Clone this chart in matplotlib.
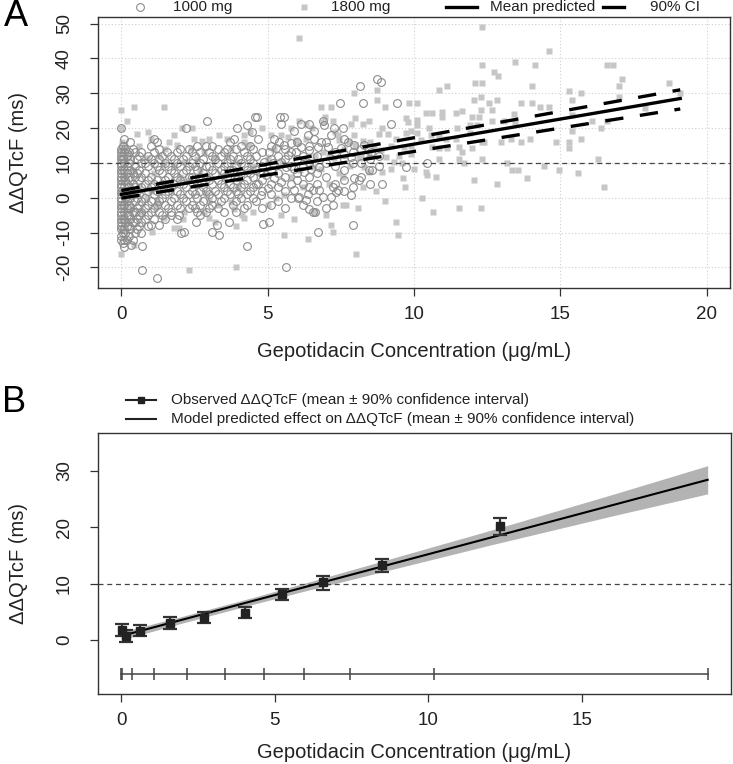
import matplotlib
matplotlib.use("Agg")
import matplotlib.pyplot as plt
from matplotlib.lines import Line2D
import numpy as np

plt.rcParams['font.family'] = ['Liberation Sans', 'DejaVu Sans']
plt.rcParams['axes.unicode_minus'] = False

pts_1000 = [
    (0, 20), (0, 14), (0, 13), (0, 12), (0, 11), (0, 10), (0, 9), (0, 8), (0, 7), (0, 6), (0, 5),
    (0, 4), (0, 3), (0, 2), (0, 1), (0, 0), (0, -1), (0, -2), (0, -3), (0, -4), (0, -5), (0, -6),
    (0, -7), (0, -8), (0, -9), (0, -11), (0, -12),
    (0.05, 15), (0.05, 11), (0.05, -10), (0.05, -13),
    (0.08, 17), (0.08, 13), (0.08, 10), (0.08, 8), (0.08, 6), (0.08, 3), (0.08, 1), (0.08, -2),
    (0.08, -4), (0.08, -6), (0.08, -9), (0.08, -12), (0.08, -14),
    (0.12, 14), (0.12, 5), (0.12, 0), (0.12, -7), (0.12, -10),
    (0.18, 12), (0.18, 9), (0.18, 7), (0.18, 4), (0.18, 2), (0.18, -1), (0.18, -3), (0.18, -5),
    (0.18, -8), (0.18, -12),
    (0.25, 13), (0.25, 10), (0.25, 6), (0.25, 3), (0.25, -2), (0.25, -5), (0.25, -8), (0.25, -11),
    (0.3, 16), (0.3, 11), (0.3, 8), (0.3, 5), (0.3, 2), (0.3, 0), (0.3, -3), (0.3, -6), (0.3, -9),
    (0.32, -13.6),
    (0.38, 14), (0.38, 7), (0.38, 4), (0.38, 1), (0.38, -4), (0.38, -7), (0.38, -12),
    (0.45, 13), (0.45, 9), (0.45, 6), (0.45, 3), (0.45, -1), (0.45, -4), (0.45, -7), (0.45, -10),
    (0.52, 11), (0.52, 7), (0.52, 2), (0.52, 0), (0.52, -3), (0.52, -6), (0.52, -9),
    (0.6, 12), (0.6, 8), (0.6, 5), (0.6, 1), (0.6, -2), (0.6, -5), (0.6, -8),
    (0.68, 13), (0.68, 10), (0.68, 6), (0.68, 3), (0.68, -1), (0.68, -4), (0.68, -7), (0.68, -10),
    (0.72, -13.8), (0.72, -20.8),
    (0.8, 10), (0.8, 7), (0.8, 4), (0.8, 0), (0.8, -3), (0.8, -6),
    (0.9, 12), (0.9, 9), (0.9, 5), (0.9, 2), (0.9, -2), (0.9, -5), (0.9, -8),
    (1.0, 15), (1.0, 11), (1.0, 6), (1.0, 3), (1.0, -1), (1.0, -4), (1.0, -7.8),
    (1.1, 17), (1.1, 13), (1.1, 10), (1.1, 4), (1.1, 1), (1.1, -3), (1.1, -6),
    (1.23, 16), (1.23, -23),
    (1.2, 9), (1.2, 5), (1.2, 2), (1.2, -2), (1.3, -7.8),
    (1.3, 14), (1.3, 11), (1.3, 8), (1.3, 3), (1.3, -1), (1.3, -4),
    (1.4, 12), (1.4, 7), (1.4, 4), (1.4, 0), (1.4, -5),
    (1.5, 10), (1.5, 5), (1.5, 1), (1.5, -2), (1.5, -6),
    (1.55, 13), (1.6, 9), (1.6, 6), (1.6, 2), (1.6, -3), (1.68, -5),
    (1.7, 12), (1.7, 8), (1.7, 3), (1.7, -1), (1.7, -4),
    (1.8, 11), (1.8, 7), (1.8, 4), (1.8, 0), (1.97, -5),
    (1.9, 13), (1.9, 10), (1.9, 6), (1.9, 2), (1.9, -2), (1.9, -6),
    (2.0, 14), (2.0, 9), (2.0, 5), (2.0, 1), (2.0, -3), (2.03, -10.2), (2.14, -9.8),
    (2.1, 11), (2.1, 7), (2.1, 4), (2.1, 0),
    (2.2, 20), (2.2, 12), (2.2, 8), (2.2, 3), (2.2, -1),
    (2.3, 14), (2.3, 9), (2.3, 6), (2.3, 1), (2.3, -3),
    (2.4, 13), (2.4, 10), (2.4, 6), (2.4, 2), (2.4, -2),
    (2.5, 12), (2.5, 9), (2.5, 5), (2.5, 1), (2.5, -3),
    (2.55, -6.9), (2.6, 15), (2.6, 8), (2.6, 4), (2.6, 0), (2.6, -4),
    (2.7, 13), (2.7, 10), (2.7, 6), (2.7, 2), (2.7, -2), (2.7, -5),
    (2.8, 11), (2.8, 7), (2.8, 3), (2.8, -1),
    (2.9, 15), (2.9, 9), (2.9, 6), (2.9, 2), (2.9, -4),
    (2.94, 22), (3.0, 13), (3.0, 9), (3.0, 5), (3.0, 1), (3.0, -3),
    (3.1, 15), (3.1, -9.8), (3.1, 12), (3.1, 8), (3.1, 4), (3.1, 0), (3.1, -2),
    (3.2, 11), (3.2, 7), (3.2, 2), (3.28, -7.8), (3.33, -10.7),
    (3.3, 14), (3.3, 10), (3.3, 5), (3.3, 1), (3.3, -3),
    (3.4, 12), (3.4, 8), (3.4, 4), (3.4, -1),
    (3.5, 13), (3.5, 9), (3.5, 7), (3.5, 3), (3.5, 0), (3.5, -4),
    (3.6, 14), (3.6, 10), (3.6, 6), (3.6, 2), (3.67, -6.9),
    (3.7, 16), (3.7, 11), (3.7, 8), (3.7, 4), (3.7, 1),
    (3.85, 17), (3.8, 12), (3.8, 8), (3.8, 3), (3.8, -2),
    (3.9, 14), (3.9, 9), (3.9, 5), (3.9, 2), (3.9, -1), (3.9, -4),
    (3.96, 20), (4.0, 11), (4.0, 6), (4.0, 1),
    (4.1, 15), (4.1, 10), (4.1, 7), (4.1, 3), (4.1, 0),
    (4.2, 13), (4.2, 9), (4.2, 4), (4.2, -3),
    (4.3, 21), (4.3, -13.8), (4.3, 12), (4.3, 8), (4.3, 5), (4.3, 1), (4.3, -2),
    (4.4, 15), (4.4, 11), (4.4, 7), (4.4, 2),
    (4.5, 14), (4.5, 10), (4.5, 6), (4.5, 3), (4.5, 0),
    (4.47, 19), (4.58, 23.3), (4.6, 12), (4.6, 8), (4.6, 4), (4.6, -1),
    (4.8, 13), (4.8, 9), (4.8, 5), (4.8, 2), (4.8, -3),
    (5.1, 15), (5.1, 11), (5.1, 8), (5.1, 4), (5.1, 1), (5.1, -2),
    (5.35, 12), (5.35, 7), (5.35, 3), (5.35, -1),
    (5.6, 14), (5.6, 11), (5.6, 6), (5.6, 2), (5.6, -3),
    (5.8, 13), (5.8, 9), (5.8, 4), (5.8, 0),
    (6.0, 16), (6.0, 11), (6.0, 7), (6.0, 5),
    (6.2, 12), (6.2, 9), (6.2, 4), (6.2, -2),
    (6.4, 15), (6.4, 10), (6.4, 6), (6.4, 3),
    (6.7, 12), (6.7, 7), (6.7, 4), (6.7, -1),
    (7.0, 16), (7.0, 10), (7.0, 6), (7.0, -3),
    (7.3, 13), (7.3, 9), (7.3, 4),
    (7.6, 17), (7.6, 11), (7.6, 8), (7.6, 2),
    (7.9, 13), (7.9, 10), (7.9, 3),
    (8.2, 14), (8.2, 10), (8.2, 6),
    (8.5, 11), (8.5, 4), (8.8, 12), (8.8, 9),
    (4.64, 23.3), (5.43, 23.3), (5.57, 23.3), (5.46, 21.1), (6.14, 21.1), (6.42, 21.1),
    (6.88, 22), (6.93, 20.9), (6.59, 19.1), (5.91, 19.1), (7.28, 19.9), (7.56, 19.9), (9.21, 21.1),
    (4.66, 17), (5.23, 17), (5.4, 16.1), (5.57, 15.1), (5.8, 15.6), (6.37, 18), (6.59, 17),
    (6.82, 16.1), (7.16, 18), (7.73, 16.1), (7.96, 15.1), (6.14, 14.6), (6.42, 13.7), (6.71, 14.6),
    (7.05, 14.6), (7.5, 14.2), (7.62, 12.7), (7.84, 11.8), (8.3, 15.1), (8.53, 13.2), (5.06, 13.2),
    (5.28, 14.2), (5.68, 12.2), (5.97, 13.2), (4.89, 10.3), (5.17, 9.9), (5.46, 10.3), (5.63, 8.9),
    (5.91, 8.4), (6.25, 7.5), (6.48, 8.4), (6.76, 8.9), (4.72, 7.5), (4.94, 6.5), (5.23, 5.6),
    (5.46, 4.6), (4.66, 4.1), (5.0, 2.7), (4.77, 0.8), (5.91, 2.2), (6.08, 0.3), (6.37, 1.2),
    (6.54, 2.2), (6.76, 2.2), (6.88, 0.3), (7.22, 3.2), (7.39, 2.2), (7.62, 5.1), (7.96, 5.6),
    (8.13, 5.1), (8.47, 7.9), (8.58, 7.9), (8.92, 4.1), (9.72, 8.9), (7.16, 0.3), (7.33, 1.7),
    (7.84, 0.8), (6.02, -0.2), (6.31, -0.7), (6.42, -3.1), (6.54, -4), (6.62, -4), (7.22, -2.1),
    (4.83, -7.4), (5.06, -6.9), (6.71, -9.8), (7.9, -7.8), (5.63, -19.8), (8.73, 34.1),
    (8.87, 33.1), (8.16, 32.1), (7.48, 27.1), (8.27, 27.1), (9.41, 27.1), (10.46, 10.0),
]

pts_1800 = [
    (0, 25.2), (0.43, 26.1), (1.46, 26.1), (0, 19.9), (2.08, 19.9), (1.0, 17.0), (1.8, 18.0),
    (0.52, 18.2), (2.48, 17.0), (2.76, 16.3), (3.33, 18.0), (3.62, 17.0), (4.19, 18.0), (4.41, 18.9),
    (0.03, 16.1), (0.09, 15.1), (1.63, 16.1), (1.91, 15.1), (2.37, 14.2), (2.82, 13.2), (3.73, 14.2),
    (4.36, 15.1), (0.26, 11.3), (0.89, 11.3), (1.46, 9.9), (2.14, 10.3), (3.16, 11.3), (3.96, 10.3),
    (0, 4.6), (0.15, -1.1), (0.32, -3.1), (0.89, -0.2), (1.23, -2.1), (1.46, -5.9), (1.8, -8.8),
    (1.97, -8.8), (2.14, -4.0), (2.82, -4.0), (2.99, -5.9), (3.73, -1.1), (3.84, -3.1), (4.13, -5.0),
    (4.19, -5.9), (1.06, -9.8), (0, -16.0), (0.43, -13.6), (2.31, -20.8), (3.9, -19.8), (0.09, -11.5),
    (0, 14), (0, 12), (0, 8), (0, 2), (0, -2), (0, -6), (0, -9), (0.1, 10), (0.1, 6), (0.1, -4),
    (0.2, 13), (0.2, -7), (0.6, 3), (1.1, 7), (1.7, 2), (2.3, 5), (2.9, 1), (3.5, 6), (4.0, 3),
    (4.5, 9), (0.7, -4), (1.3, 12), (2.6, 11), (3.3, -2),
    (0.2, 22), (0.6, 15), (0.9, 19), (1.2, -1), (1.5, 14), (1.8, 9), (2.1, -6), (2.4, 20),
    (2.7, 8), (3.0, 17), (3.2, -7), (3.6, 12), (3.9, -8), (4.2, 16), (4.5, -4), (4.8, 20),
    (5.2, 14), (5.5, 10), (5.8, 20), (6.1, 8), (6.3, 17), (6.6, -4), (6.9, 13), (7.1, 4),
    (7.3, 19), (7.6, 14), (7.8, 9), (8.0, 23), (8.2, 12), (8.5, 16), (8.7, 2), (8.9, 20),
    (9.2, 15), (9.4, 17), (9.5, 12), (9.7, 3), (9.9, 15), (5.9, -6), (6.5, 20), (7.0, -5),
    (0.4, 8), (1.0, 2), (2.0, 6), (3.0, -1), (4.0, 7), (5.0, -2), (9.0, -1), (9.6, 10),
    (6.08, 45.9), (8.73, 30.9), (7.96, 30.0), (7.16, 26.1), (6.82, 26.1), (9.0, 26.1), (8.75, 28.0),
    (9.84, 27.1), (6.96, 23.3), (6.88, 21.8), (7.22, 22.0), (6.08, 22.0), (6.31, 21.3), (8.47, 22.0),
    (8.24, 21.3), (7.84, 21.1), (9.72, 22.8), (9.8, 21.8), (5.11, 18.0), (5.46, 18.0), (5.68, 17.5),
    (5.97, 16.6), (6.02, 15.6), (7.39, 18.0), (7.45, 16.6), (7.96, 18.0), (8.24, 16.3), (8.81, 18.2),
    (9.1, 18.2), (9.72, 18.5), (9.89, 19.1), (7.79, 16.1), (8.0, 15.1), (8.64, 14.6), (8.87, 13.7),
    (9.66, 14.6), (9.89, 12.7), (7.1, 12.2), (7.28, 11.3), (8.13, 11.3), (8.47, 12.2), (9.04, 11.8),
    (9.32, 10.3), (6.59, 8.9), (6.82, 8.4), (8.3, 8.9), (8.47, 7.5), (7.45, 7.0), (7.56, 6.0),
    (8.92, 7.5), (9.21, 8.4), (9.61, 5.6), (8.24, 3.2), (7.56, -2.1), (7.67, -2.1), (8.07, -2.9),
    (5.28, 0.0), (5.57, 0.8), (5.46, -5.0), (5.57, -10.7), (6.37, -11.7), (7.16, -7.8), (7.22, -9.8),
    (8.01, -16.0), (9.38, -6.9), (9.44, -10.7), (5.0, 11), (5.8, 6), (6.2, 3), (6.6, 12),
    (12.33, 49.1), (14.63, 42.1), (12.33, 38.1), (13.45, 39.0), (14.13, 38.1), (12.73, 36.2),
    (12.88, 35.0), (12.1, 33.0), (12.33, 33.0), (10.85, 30.9), (11.14, 32.1), (14.04, 32.1),
    (12.28, 29.0), (12.05, 28.0), (10.11, 27.1), (12.56, 27.1), (12.84, 28.0), (13.64, 27.1),
    (14.04, 27.1), (14.32, 26.1), (14.6, 26.1), (12.28, 25.2), (12.67, 25.2), (10.4, 24.2),
    (10.63, 24.2), (10.94, 24.7), (10.94, 23.3), (11.42, 24.2), (11.65, 24.9), (11.97, 23.3),
    (12.22, 23.3), (13.41, 24.0), (10.11, 22.3), (10.11, 20.9), (10.51, 19.9), (10.57, 18.0),
    (11.48, 19.9), (11.93, 20.9), (12.16, 20.9), (12.67, 22.0), (13.07, 22.0), (13.45, 21.8),
    (10.11, 18.5), (10.23, 16.6), (10.85, 18.0), (11.08, 17.0), (11.42, 17.0), (11.93, 18.5),
    (12.39, 16.1), (12.96, 16.1), (13.3, 17.0), (13.64, 16.1), (13.95, 17.0), (14.84, 16.1),
    (10.63, 14.6), (10.85, 14.2), (11.14, 14.2), (11.54, 14.6), (11.65, 13.2), (11.97, 14.2),
    (12.33, 16.1), (10.85, 11.1), (11.54, 11.1), (11.71, 9.9), (12.33, 11.1), (10.0, 8.4),
    (10.4, 7.5), (10.46, 6.5), (10.74, 6.0), (12.05, 5.1), (13.19, 9.9), (13.36, 8.1), (13.56, 8.1),
    (13.87, 5.6), (12.84, 4.1), (14.44, 9.1), (14.95, 8.1), (10.26, 0.0), (10.65, -4.0),
    (11.54, -2.9), (12.28, -2.9),
    (15.3, 30.6), (15.4, 28.0), (15.7, 30.0), (15.4, 23.9), (15.4, 19.1), (15.3, 16.1),
    (15.3, 14.2), (15.7, 17.0), (15.6, 7.0), (16.3, 11.1), (16.5, 3.0), (16.4, 20.1), (16.6, 22.0),
    (16.1, 22.0), (16.6, 38.1), (16.8, 38.1), (17.1, 34.1), (17.0, 32.1), (17.0, 29.0),
    (17.9, 25.8), (18.7, 33.0), (19.1, 30.0),
]

# ---- panel A: model prediction
pred_a_conc = [0, 19.1]
pred_a_mean = [1.0, 28.5]
pred_a_lo = [-0.1, 25.5]
pred_a_hi = [2.1, 31.0]

# ---- panel B: binned observations
obs_conc = [0.03, 0.15, 0.62, 1.57, 2.70, 4.02, 5.24, 6.58, 8.50, 12.33]
obs_mean = [1.8, 0.7, 1.65, 2.95, 3.9, 4.85, 8.1, 10.2, 13.3, 20.2]
obs_lo = [0.7, -0.4, 0.7, 1.9, 3.0, 3.9, 7.1, 8.9, 12.0, 18.6]
obs_hi = [2.9, 1.8, 2.7, 4.0, 4.9, 5.8, 9.1, 11.4, 14.4, 21.6]

# ---- panel B: model prediction with 90% CI
pred_b_conc = [0, 2, 4, 6, 8, 10, 12, 14, 16, 19.1]
pred_b_mean = [0.7, 3.6, 6.5, 9.4, 12.3, 15.2, 18.1, 21.0, 23.9, 28.4]
pred_b_lo = [0.0, 3.0, 5.9, 8.7, 11.4, 14.1, 16.8, 19.4, 22.0, 25.9]
pred_b_hi = [1.4, 4.2, 7.1, 10.1, 13.2, 16.3, 19.4, 22.6, 25.8, 30.9]

# concentration bin edges (shown as the bar at the bottom of B)
bin_edges = [0, 0.03, 0.35, 1.05, 2.15, 3.37, 4.65, 5.95, 7.45, 10.2, 19.1]
bin_bar_y = -6

xlab = 'Gepotidacin Concentration (\u03bcg/mL)'
ylab = '\u0394\u0394QTcF (ms)'

W, H = 733, 764
fig = plt.figure(figsize=(W / 100, H / 100), dpi=100)


def fx(x):
    return x / W


def fy(y):
    return 1 - y / H


def style_axes(ax):
    for s in ax.spines.values():
        s.set_color('#333333')
        s.set_linewidth(1.0)
    ax.tick_params(axis='both', length=6, width=0.9, color='#333333',
                   labelsize=13.5, labelcolor='#222222')
    ax.tick_params(axis='y', labelrotation=90, pad=12)
    ax.tick_params(axis='x', pad=7)
    for lab in ax.get_yticklabels():
        lab.set_va('center')


# ================= panel A =================
axA = fig.add_axes([fx(98), fy(288), fx(730 - 98), (288 - 17) / H])
c1000 = np.array(pts_1000)
c1800 = np.array(pts_1800)

axA.plot(c1800[:, 0], c1800[:, 1], ls='none', marker='s', ms=4.4,
         mfc='#c6c6c6', mec='none', zorder=2)
axA.plot(c1000[:, 0], c1000[:, 1], ls='none', marker='o', ms=5.6,
         mfc='none', mec='#8c8c8c', mew=0.8, zorder=3)

axA.plot(pred_a_conc, pred_a_mean, color='black', lw=2.4, zorder=5)
axA.plot(pred_a_conc, pred_a_lo, color='black', lw=2.4, ls=(0, (5.5, 5)), zorder=5)
axA.plot(pred_a_conc, pred_a_hi, color='black', lw=2.4, ls=(0, (5.5, 5)), zorder=5)
axA.axhline(10, color='#444444', lw=0.9, ls=(0, (4, 3)), zorder=4)

axA.set_xlim(-0.8, 20.8)
axA.set_ylim(-25.9, 51.9)
axA.set_xticks([0, 5, 10, 15, 20])
axA.set_yticks([-20, -10, 0, 10, 20, 30, 40, 50])
axA.grid(True, color='#cfcfcf', ls=(0, (1, 2)), lw=0.8, zorder=0)
axA.set_axisbelow(True)
style_axes(axA)
axA.set_xlabel(xlab, fontsize=14.5, labelpad=14, color='#222222')
axA.set_ylabel(ylab, fontsize=14.5, labelpad=20, color='#222222')

# legend A (drawn at R-like positions above the box)
ly = fy(7)
fig.add_artist(Line2D([fx(140)], [ly], marker='o', ms=5.6, mfc='none', mec='#8c8c8c', mew=0.8))
fig.text(fx(173), ly, '1000 mg', fontsize=11, va='center', color='#222222')
fig.add_artist(Line2D([fx(304)], [ly], marker='s', ms=4.4, mfc='#c6c6c6', mec='none'))
fig.text(fx(331), ly, '1800 mg', fontsize=11, va='center', color='#222222')
fig.add_artist(Line2D([fx(446), fx(477)], [ly, ly], color='black', lw=2.4))
fig.text(fx(490), ly, 'Mean predicted', fontsize=11, va='center', color='#222222')
fig.add_artist(Line2D([fx(603), fx(624)], [ly, ly], color='black', lw=2.4))
fig.text(fx(650), ly, '90% CI', fontsize=11, va='center', color='#222222')

# ================= panel B =================
axB = fig.add_axes([fx(98), fy(694), fx(731 - 98), (694 - 433) / H])
axB.fill_between(pred_b_conc, pred_b_lo, pred_b_hi, color='#b3b3b3', lw=0, zorder=1)
axB.plot(pred_b_conc, pred_b_mean, color='black', lw=1.5, zorder=3)
obs_mean_a = np.array(obs_mean)
yerr = [obs_mean_a - np.array(obs_lo), np.array(obs_hi) - obs_mean_a]
axB.errorbar(obs_conc, obs_mean, yerr=yerr, fmt='s', ms=6, color='#222222',
             ecolor='#333333', elinewidth=1.6, capsize=5, capthick=1.6, zorder=4)
axB.axhline(10, color='#444444', lw=0.9, ls=(0, (4, 3)), zorder=2)
axB.plot(bin_edges, [bin_bar_y] * len(bin_edges), color='#444444', lw=1.1,
         marker='|', ms=9, mew=1.1, zorder=2)

axB.set_xlim(-0.76, 19.86)
axB.set_ylim(-9.6, 36.7)
axB.set_xticks([0, 5, 10, 15])
axB.set_yticks([0, 10, 20, 30])
style_axes(axB)
axB.set_xlabel(xlab, fontsize=14.5, labelpad=10, color='#222222')
axB.set_ylabel(ylab, fontsize=14.5, labelpad=20, color='#222222')

# legend B
for yy, txt, mk in [(400, 'Observed \u0394\u0394QTcF (mean \u00b1 90% confidence interval)', True),
                    (419, 'Model predicted effect on \u0394\u0394QTcF (mean \u00b1 90% confidence interval)', False)]:
    fig.add_artist(Line2D([fx(126), fx(156)], [fy(yy), fy(yy)], color='#222222', lw=1.5))
    if mk:
        fig.add_artist(Line2D([fx(141)], [fy(yy)], marker='s', ms=5, color='#222222'))
    fig.text(fx(171), fy(yy), txt, fontsize=11, va='center', color='#222222')

# panel letters
fig.text(fx(4), fy(17), 'A', fontsize=26, va='center', ha='left',
         family=['Liberation Sans Narrow', 'Liberation Sans'])
fig.text(fx(2), fy(403), 'B', fontsize=26, va='center', ha='left',
         family=['Liberation Sans Narrow', 'Liberation Sans'])

fig.savefig('out.png', dpi=100)
